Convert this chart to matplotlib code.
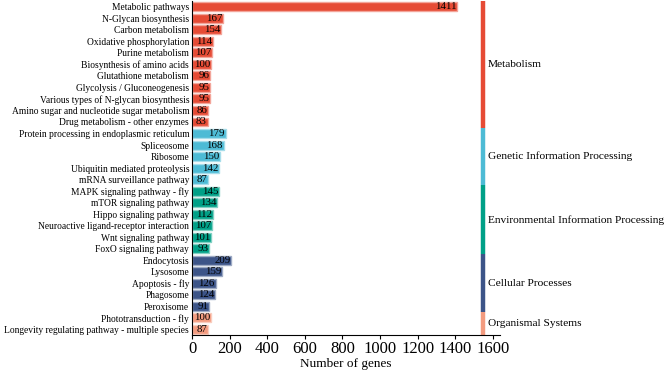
import matplotlib
matplotlib.use("Agg")
import matplotlib.pyplot as plt

plt.rcParams['font.family'] = ['Liberation Serif', 'DejaVu Serif']

pathways = ["Metabolic pathways", "N-Glycan biosynthesis", "Carbon metabolism",
            "Oxidative phosphorylation", "Purine metabolism", "Biosynthesis of amino acids",
            "Glutathione metabolism", "Glycolysis / Gluconeogenesis",
            "Various types of N-glycan biosynthesis",
            "Amino sugar and nucleotide sugar metabolism", "Drug metabolism - other enzymes",
            "Protein processing in endoplasmic reticulum", "Spliceosome", "Ribosome",
            "Ubiquitin mediated proteolysis", "mRNA surveillance pathway",
            "MAPK signaling pathway - fly", "mTOR signaling pathway", "Hippo signaling pathway",
            "Neuroactive ligand-receptor interaction", "Wnt signaling pathway",
            "FoxO signaling pathway",
            "Endocytosis", "Lysosome", "Apoptosis - fly", "Phagosome", "Peroxisome",
            "Phototransduction - fly", "Longevity regulating pathway - multiple species"]
genes = [1411, 167, 154, 114, 107, 100, 96, 95, 95, 86, 83,
         179, 168, 150, 142, 87,
         145, 134, 112, 107, 101, 93,
         209, 159, 126, 124, 91,
         100, 87]
categories = ["Metabolism", "Genetic Information Processing",
              "Environmental Information Processing", "Cellular Processes",
              "Organismal Systems"]
cat_counts = [11, 5, 6, 5, 2]
cat_colors = ["#E64B35", "#4DBBD5", "#00A087", "#3C5488", "#F39B7F"]
edge_colors = ["#F3A59A", "#A6DDEA", "#80D0C3", "#9DAAC4", "#F9CDBF"]

fig = plt.figure(figsize=(6.69, 3.73), dpi=100)
ax = fig.add_axes([0.287, 0.102, 0.461, 0.895])

colors, edges = [], []
for c, n, e in zip(cat_colors, cat_counts, edge_colors):
    colors += [c] * n
    edges += [e] * n

y = list(range(len(pathways)))
ax.barh(y, genes, height=0.78, color=colors, edgecolor=edges, linewidth=1.0)
for yi, v in zip(y, genes):
    ax.text(v - 4, yi, str(v), ha='right', va='center', fontsize=7.8, color='black')

# category strip on the right
start = -0.5
strip_x = 1550
for cat, n, c in zip(categories, cat_counts, cat_colors):
    ax.plot([strip_x, strip_x], [start, start + n], color=c, linewidth=3.2,
            solid_capstyle='butt', clip_on=False)
    ax.text(strip_x + 22, start + n / 2, cat, ha='left', va='center', fontsize=8.2)
    start += n

ax.set_ylim(len(pathways) - 0.5, -0.5)
ax.set_xlim(0, 1640)
ax.set_yticks(y)
ax.set_yticklabels(pathways, fontsize=6.85)
ax.tick_params(axis='y', length=0, pad=2)
ax.set_xticks(range(0, 1601, 200))
ax.tick_params(axis='x', labelsize=12, length=3, pad=1)
ax.set_xlabel("Number of genes", fontsize=9.5, labelpad=1)
ax.spines['top'].set_visible(False)
ax.spines['right'].set_visible(False)

fig.savefig("out.png", dpi=100)
